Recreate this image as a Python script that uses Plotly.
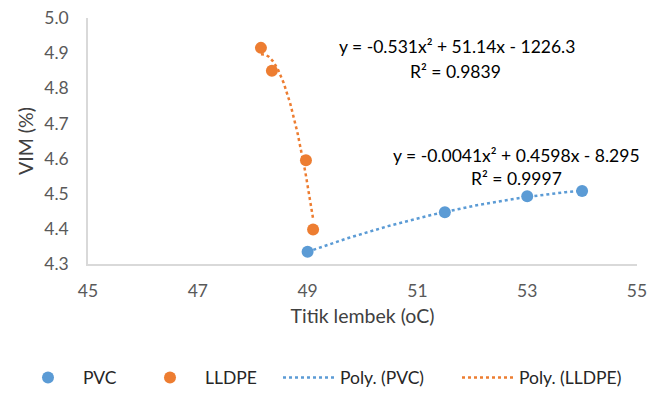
import numpy as np
import plotly.graph_objects as go

pvc_x = [49.0, 51.5, 53.0, 54.0]
pvc_y = [4.335, 4.447, 4.493, 4.508]
lldpe_x = [48.15, 48.35, 48.97, 49.1]
lldpe_y = [4.915, 4.85, 4.595, 4.398]

pvc_eq = ["y = -0.0041x² + 0.4598x - 8.295", "R² = 0.9997"]
lldpe_eq = ["y = -0.531x² + 51.14x - 1226.3", "R² = 0.9839"]

x_ticks = [45, 47, 49, 51, 53, 55]
y_ticks = [4.3, 4.4, 4.5, 4.6, 4.7, 4.8, 4.9, 5.0]

BLUE = "#5b9bd5"
ORANGE = "#ed7d31"
FONT = "Lato"
OFF = 8  # page body margin
# plot area in page pixels
PX0, PX1, PY0, PY1 = 88, 637, 17.5, 264
W, H = 655 - 2 * OFF, 400 - 2 * OFF   # avoid scrollbars
L, R = PX0 - OFF, W - (PX1 - OFF)
T, B = PY0 - OFF, H - (PY1 - OFF)
PW, PH = PX1 - PX0, PY1 - PY0

def pxp(px):
    return (px - PX0) / PW

def pyp(py):
    return (PY1 - py) / PH

def fit_curve(xs, ys):
    c = np.polyfit(xs, ys, 2)
    xx = np.linspace(min(xs), max(xs), 100)
    return xx, np.polyval(c, xx)

px_, py_ = fit_curve(pvc_x, pvc_y)
lx_, ly_ = fit_curve(lldpe_x, lldpe_y)

fig = go.Figure()
fig.add_trace(go.Scatter(x=px_, y=py_, mode="lines", name="Poly. (PVC)", legend="legend3",
                         line=dict(color=BLUE, width=2.5, dash="dot")))
fig.add_trace(go.Scatter(x=lx_, y=ly_, mode="lines", name="Poly. (LLDPE)", legend="legend4",
                         line=dict(color=ORANGE, width=2.5, dash="dot")))
fig.add_trace(go.Scatter(x=pvc_x, y=pvc_y, mode="markers", name="PVC", legend="legend",
                         marker=dict(color=BLUE, size=12)))
fig.add_trace(go.Scatter(x=lldpe_x, y=lldpe_y, mode="markers", name="LLDPE", legend="legend2",
                         marker=dict(color=ORANGE, size=12)))

def add_text(txt, px, py):
    fig.add_annotation(x=pxp(px), y=pyp(py), xref="paper", yref="paper", text=txt,
                       showarrow=False, xanchor="center", yanchor="middle",
                       font=dict(family=FONT, size=17.5, color="#000"))

add_text(lldpe_eq[0], 457, 46)
add_text(lldpe_eq[1], 455.5, 71)
add_text(pvc_eq[0], 516, 155)
add_text(pvc_eq[1], 516, 178)

leg_y = pyp(396)
def leg(px, iw):
    return dict(orientation="h", x=pxp(px), y=leg_y, xanchor="left", yanchor="bottom",
                itemwidth=iw, font=dict(family=FONT, size=17.5, color="#262626"),
                bgcolor="rgba(0,0,0,0)")

fig.update_layout(
    width=W, height=H,
    margin=dict(l=L, r=R, t=T, b=B, pad=0, autoexpand=False),
    paper_bgcolor="white", plot_bgcolor="white",
    font=dict(family=FONT, size=17.5, color="#595959"),
    showlegend=True,
    legend=leg(13, 60), legend2=leg(135, 60), legend3=leg(278, 52), legend4=leg(457, 52),
    xaxis=dict(range=[45, 55], tickvals=x_ticks, showgrid=False, zeroline=False,
               showline=True, linecolor="#d9d9d9", linewidth=1.5, ticks="",
               automargin=False, ticklabelstandoff=10, ticklabeloverflow="allow",
               tickfont=dict(family=FONT, size=17.5, color="#595959"),
               title=dict(text="Titik lembek (oC)", font=dict(family=FONT, size=19.5, color="#404040"),
                          standoff=10)),
    yaxis=dict(range=[4.3, 5.0], tickvals=y_ticks, tickformat=".1f", showgrid=False,
               zeroline=False, showline=True, linecolor="#d9d9d9", linewidth=1.5, ticks="",
               automargin=False, ticklabelstandoff=14, ticklabeloverflow="allow",
               tickfont=dict(family=FONT, size=17.5, color="#595959"),
               title=dict(text="VIM (%)", font=dict(family=FONT, size=19.5, color="#404040"),
                          standoff=5)),
)

fig.write_html("out.html")
